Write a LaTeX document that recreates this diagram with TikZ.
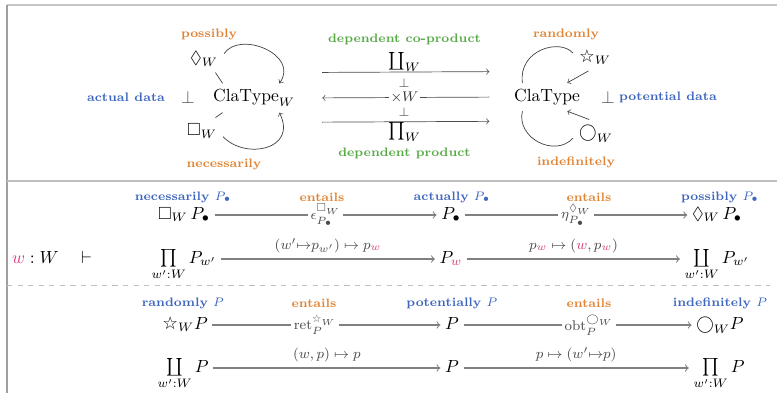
\documentclass[tikz,border=0pt]{standalone}
\usepackage{amsmath,amssymb}
\usepackage{fontspec}
\newfontfamily\starfont{DejaVu Sans}
\usetikzlibrary{positioning}
\definecolor{modeorange}{RGB}{224,132,52}
\definecolor{datablue}{RGB}{62,102,190}
\definecolor{typegreen}{RGB}{88,170,72}
\definecolor{worldpink}{RGB}{214,62,126}
\newcommand{\mNec}{\Box}
\newcommand{\mPos}{\Diamond}
\newcommand{\mRnd}{\mathord{\text{\starfont ☆}}}
\newcommand{\mInd}{\mathord{\bigcirc}}
\newcommand{\wpk}{{\color{worldpink}w}}
\begin{document}
\begin{tikzpicture}[x=0.02cm, y=-0.02cm,
    lbl/.style={font=\scriptsize\bfseries},
    obj/.style={inner sep=2.5pt, text height=1.5ex, text depth=.4ex},
    arr/.style={->, black!50, line width=.6pt},
    tag/.style={font=\footnotesize, text=black!70, fill=white, inner sep=1.5pt}]
  \useasboundingbox (0,0) rectangle (777,393);
  % frame
  \draw[gray!45, line width=1.2pt] (7,5) -- (777,5);
  \draw[gray!75, line width=1pt] (7,5) -- (7,393);
  \draw[gray!50, line width=1.2pt] (7,181) -- (777,181);
  \draw[gray!50, dashed] (7,285) -- (770,285);

  % actual data side
  \node (ctw) at (254,98) {$\mathrm{ClaType}_W$};
  \node (posw) at (204,59) {$\mPos_W$};
  \node (necw) at (202,131) {$\mNec_W$};
  \node[lbl, modeorange] (possibly) at (209,34) {possibly};
  \node[lbl, modeorange] (necessarily) at (224,164) {necessarily};
  \node[lbl, datablue] (actual) at (126,97) {actual data};
  \node[text=black!70] (perpl) at (188,97) {$\perp$};
  \draw[black!75] (ctw.155) -- (posw.-50);
  \draw[black!75, ->] (posw.15) .. controls (240,30) and (300,55) .. (ctw.30);
  \draw[black!75] (ctw.-155) -- (necw.45);
  \draw[black!75, ->] (necw.-15) .. controls (245,160) and (298,150) .. (ctw.-30);

  % potential data side
  \node (cr) at (547,97) {$\mathrm{ClaType}$};
  \node (rndw) at (595,57) {$\mRnd_W$};
  \node (indw) at (596,134) {$\mInd_W$};
  \node[lbl, modeorange] (randomly) at (566,34) {randomly};
  \node[lbl, modeorange] (indefinitely) at (576,162) {indefinitely};
  \node[lbl, datablue] (potential) at (668,97) {potential data};
  \node[text=black!70] (perpr) at (608,97) {$\perp$};
  \draw[black!75] (cr.150) .. controls (518,50) and (560,38) .. (rndw.170);
  \draw[black!75, ->] (rndw.-115) -- (cr.35);
  \draw[black!75] (cr.-150) .. controls (516,138) and (555,158) .. (indw.-170);
  \draw[black!75, ->] (indw.115) -- (cr.-35);

  % dependent sums and products
  \draw[black!70, ->, shorten <=12pt, shorten >=10.5pt] ([yshift=14.5pt]ctw.east)
    -- node[above=-3pt, text=black] (cop) {$\coprod_W$} ([yshift=14.5pt]cr.west);
  \draw[black!70, <-, shorten <=12pt, shorten >=10.5pt] (ctw.east)
    -- node[fill=white, text=black!80, inner sep=1pt, font=\footnotesize] (tms) {$\times W$} (cr.west);
  \draw[black!70, ->, shorten <=12pt, shorten >=10.5pt] ([yshift=-13.8pt]ctw.east)
    -- node[below=-3pt, text=black] (prd) {$\prod_W$} ([yshift=-13.8pt]cr.west);
  \node[font=\scriptsize, text=black!70, inner sep=0pt] (perpa) at (404,83) {$\perp$};
  \node[font=\scriptsize, text=black!70, inner sep=0pt] (perpb) at (404,112) {$\perp$};
  \node[lbl, typegreen, above=-2.5pt of cop] (copl) {dependent co-product};
  \node[lbl, typegreen, below=-3pt of prd] (prdl) {dependent product};

  % rows for a fixed world
  \node[lbl, datablue] (nl) at (183,197) {necessarily $P_\bullet$};
  \node[lbl, datablue] (al) at (452,197) {actually $P_\bullet$};
  \node[lbl, datablue] (pl) at (720,197) {possibly $P_\bullet$};
  \node[lbl, modeorange] (e1) at (322,197) {entails};
  \node[lbl, modeorange] (e2) at (589,197) {entails};
  \node[obj] (nP) at (184,215) {$\mNec_W\, P_\bullet$};
  \node[obj] (aP) at (451,215) {$P_\bullet$};
  \node[obj] (pP) at (717,215) {$\mPos_W\, P_\bullet$};
  \draw[arr] (nP) -- node[tag] {$\epsilon^{\mNec_W}_{P_\bullet}$} (aP);
  \draw[arr] (aP) -- node[tag] {$\eta^{\mPos_W}_{P_\bullet}$} (pP);

  \node (ctx) at (52,257) {$\wpk : W \quad \vdash$};
  \node[obj] (prodP) at (184,259) {$\prod\limits_{w':W} P_{w'}$};
  \node[obj] (Pw) at (451,259) {$P_{\wpk}$};
  \node[obj] (coprodP) at (717,259) {$\coprod\limits_{w':W} P_{w'}$};
  \draw[arr] (prodP) -- node[above, font=\footnotesize, text=black!70]
    {$(w' {\mapsto} p_{w'}) \mapsto p_{\wpk}$} (Pw);
  \draw[arr] (Pw) -- node[above, font=\footnotesize, text=black!70]
    {$p_{\wpk} \mapsto (\wpk, p_{\wpk})$} (coprodP);

  % rows for any world
  \node[lbl, datablue] (rl) at (183,303) {randomly $P$};
  \node[lbl, datablue] (ptl) at (452,303) {potentially $P$};
  \node[lbl, datablue] (il) at (720,303) {indefinitely $P$};
  \node[lbl, modeorange] (e3) at (314,303) {entails};
  \node[lbl, modeorange] (e4) at (589,303) {entails};
  \node[obj] (rP) at (185,325) {$\mRnd_W P$};
  \node[obj] (ptP) at (452,325) {$P$};
  \node[obj] (iP) at (720,325) {$\mInd_W P$};
  \draw[arr] (rP) -- node[tag, pos=.45] {$\mathrm{ret}^{\mRnd_W}_P$} (ptP);
  \draw[arr] (ptP) -- node[tag, pos=.55] {$\mathrm{obt}^{\mInd_W}_P$} (iP);

  \node[obj] (cpP) at (183,368) {$\coprod\limits_{w':W} P$};
  \node[obj] (pP2) at (452,368) {$P$};
  \node[obj] (pdP) at (719,368) {$\prod\limits_{w':W} P$};
  \draw[arr] (cpP) -- node[above, font=\footnotesize, text=black!70]
    {$(w,p) \mapsto p$} (pP2);
  \draw[arr] (pP2) -- node[above, font=\footnotesize, text=black!70]
    {$p \mapsto (w' {\mapsto} p)$} (pdP);
\end{tikzpicture}
\end{document}
